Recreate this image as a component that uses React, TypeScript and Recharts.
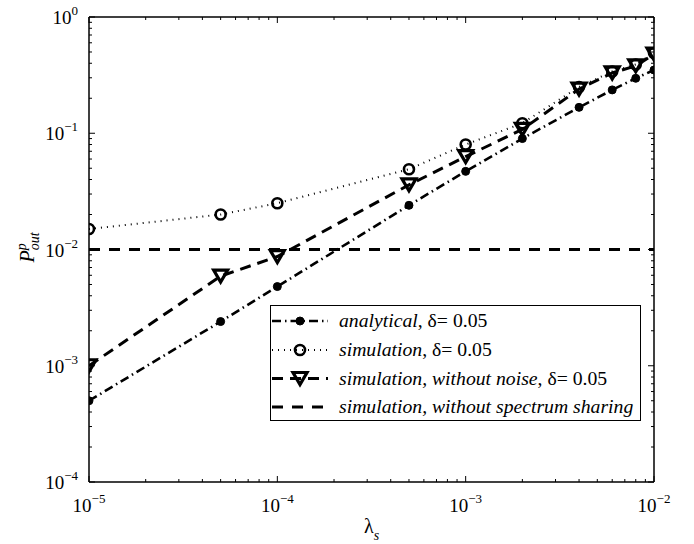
import React from "react";
import { LineChart, Line, XAxis, YAxis, Legend, Label } from "recharts";

// lambda_s values (x axis)
const lambdaS = [1e-5, 5e-5, 1e-4, 5e-4, 1e-3, 2e-3, 4e-3, 6e-3, 8e-3, 1e-2];
// outage probability per series
const analytical = [5e-4, 2.4e-3, 4.8e-3, 0.024, 0.047, 0.09, 0.167, 0.236, 0.297, 0.35];
const simulation = [0.015, 0.02, 0.025, 0.049, 0.08, 0.122, 0.25, 0.34, 0.39, 0.49];
const withoutNoise = [1e-3, 5.9e-3, 8.7e-3, 0.036, 0.063, 0.108, 0.24, 0.33, 0.38, 0.48];
const withoutSharing = [0.01, 0.01, 0.01, 0.01, 0.01, 0.01, 0.01, 0.01, 0.01, 0.01];

// decade tick labels and minor tick mantissas
const xDecades = [1e-5, 1e-4, 1e-3, 1e-2];
const yDecades = [1e-4, 1e-3, 1e-2, 1e-1, 1];
const mantissas = [1, 2, 3, 4, 5, 6, 7, 8, 9];

const data = lambdaS.map((x, i) => ({
  x,
  analytical: analytical[i],
  simulation: simulation[i],
  withoutNoise: withoutNoise[i],
  withoutSharing: withoutSharing[i],
}));

const allTicks = (decades: number[]) => {
  const out: number[] = [];
  decades.forEach((d, i) => {
    if (i === decades.length - 1) out.push(d);
    else mantissas.forEach((m) => out.push(m * d));
  });
  return out;
};
const xTicks = allTicks(xDecades);
const yTicks = allTicks(yDecades);

const FONT = "Liberation Serif";
const FS = 19;
const isMajor = (v: number) => Math.abs(Math.log10(v) - Math.round(Math.log10(v))) < 1e-6;
const expOf = (v: number) => Math.round(Math.log10(v));
const expText = (e: number) => (e < 0 ? `\u2212${-e}` : `${e}`);

const XTick = (props: any) => {
  const { x, y, payload, side } = props;
  const v = payload.value;
  const major = isMajor(v);
  const len = major ? 6 : 3;
  const dir = side === "bottom" ? -1 : 1;
  return (
    <g>
      <line x1={x} y1={y} x2={x} y2={y + dir * len} stroke="#000" strokeWidth={1} />
      {side === "bottom" && major && (
        <text x={x} y={y + 30} textAnchor="middle" fontFamily={FONT} fontSize={FS} fill="#000">
          10
          <tspan dy={-9} fontSize={13}>
            {expText(expOf(v))}
          </tspan>
        </text>
      )}
    </g>
  );
};

const YTick = (props: any) => {
  const { x, y, payload, side } = props;
  const v = payload.value;
  const major = isMajor(v);
  const len = major ? 6 : 3;
  const dir = side === "left" ? 1 : -1;
  return (
    <g>
      <line x1={x} y1={y} x2={x + dir * len} y2={y} stroke="#000" strokeWidth={1} />
      {side === "left" && major && (
        <text x={x - 11} y={y + 7} textAnchor="end" fontFamily={FONT} fontSize={FS} fill="#000">
          10
          <tspan dy={-9} fontSize={13}>
            {expText(expOf(v))}
          </tspan>
        </text>
      )}
    </g>
  );
};

const FilledDot = (p: any) =>
  p.cx == null ? <g key={p.key} /> : <circle key={p.key} cx={p.cx} cy={p.cy} r={4} fill="#000" stroke="#000" strokeWidth={1} />;
const OpenCircle = (p: any) =>
  p.cx == null ? <g key={p.key} /> : <circle key={p.key} cx={p.cx} cy={p.cy} r={5} fill="none" stroke="#000" strokeWidth={2.6} />;
const TriangleDown = (p: any) =>
  p.cx == null ? (
    <g key={p.key} />
  ) : (
    <polygon
      key={p.key}
      points={`${p.cx - 7},${p.cy - 6} ${p.cx + 7},${p.cy - 6} ${p.cx},${p.cy + 6}`}
      fill="none"
      stroke="#000"
      strokeWidth={3.2}
      strokeLinejoin="miter"
    />
  );

const series = [
  {
    key: "analytical",
    dash: "9 4 1.5 4",
    width: 2.6,
    dot: FilledDot,
    label: [["analytical", true], [", \u03b4= 0.05", false]] as [string, boolean][],
  },
  {
    key: "simulation",
    dash: "1 5",
    width: 2,
    dot: OpenCircle,
    label: [["simulation", true], [", \u03b4= 0.05", false]] as [string, boolean][],
  },
  {
    key: "withoutNoise",
    dash: "11 7",
    width: 3,
    dot: TriangleDown,
    label: [["simulation, without noise", true], [", \u03b4= 0.05", false]] as [string, boolean][],
  },
  {
    key: "withoutSharing",
    dash: "11 9",
    width: 3,
    dot: null,
    label: [["simulation, without spectrum sharing", true]] as [string, boolean][],
  },
];

const LegendBox = () => {
  const rowY = [15, 44, 72.5, 101];
  return (
    <div
      style={{
        width: 371,
        height: 116,
        boxSizing: "border-box",
        border: "1.2px solid #000",
        background: "#fff",
      }}
    >
      <svg width={369} height={114} style={{ display: "block" }}>
        {series.map((s, i) => {
          const cy = rowY[i];
          const Marker = s.dot as any;
          return (
            <g key={s.key}>
              <line x1={1} y1={cy} x2={57} y2={cy} stroke="#000" strokeWidth={s.width} strokeDasharray={s.dash} />
              {Marker && <Marker cx={29} cy={cy} key="m" />}
              <text x={68} y={cy + 6} fontFamily={FONT} fontSize={19.7} fill="#000">
                {s.label.map(([t, it], j) => (
                  <tspan key={j} fontStyle={it ? "italic" : "normal"}>
                    {t}
                  </tspan>
                ))}
              </text>
            </g>
          );
        })}
      </svg>
    </div>
  );
};

const YLabel = (props: any) => {
  const { viewBox } = props;
  const cx = viewBox.x + viewBox.width - 55;
  const cy = viewBox.y + viewBox.height / 2 - 2;
  return (
    <text
      transform={`rotate(-90, ${cx}, ${cy})`}
      x={cx}
      y={cy}
      textAnchor="middle"
      fontFamily={FONT}
      fontStyle="italic"
      fontSize={20}
      fill="#000"
    >
      P
      <tspan dy={-8} fontSize={14}>
        p
      </tspan>
      <tspan dx={-7} dy={13} fontSize={14}>
        out
      </tspan>
    </text>
  );
};

const XLabel = (props: any) => {
  const { viewBox } = props;
  const cx = viewBox.x + viewBox.width / 2;
  const cy = viewBox.y + 51;
  return (
    <text x={cx} y={cy} textAnchor="middle" fontFamily={FONT} fontSize={20} fill="#000">
      {"\u03bb"}
      <tspan dy={7} fontSize={14} fontStyle="italic">
        s
      </tspan>
    </text>
  );
};

const axisLine = { stroke: "#000", strokeWidth: 1.5 };

export default function App() {
  return (
    <div style={{ position: "absolute", left: 0, top: 0, background: "#fff" }}>
      <LineChart width={694} height={544} data={data} margin={{ top: 16, right: 39, bottom: 22, left: 29 }}>
        <XAxis
          dataKey="x"
          type="number"
          scale="log"
          domain={[1e-5, 1e-2]}
          allowDataOverflow
          ticks={xTicks}
          interval={0}
          height={40}
          tickSize={0}
          tickMargin={0}
          tickLine={false}
          axisLine={axisLine}
          tick={<XTick side="bottom" />}
        >
          <Label content={<XLabel />} />
        </XAxis>
        <XAxis
          xAxisId="top"
          orientation="top"
          dataKey="x"
          type="number"
          scale="log"
          domain={[1e-5, 1e-2]}
          allowDataOverflow
          ticks={xTicks}
          interval={0}
          height={1}
          tickSize={0}
          tickMargin={0}
          tickLine={false}
          axisLine={axisLine}
          tick={<XTick side="top" />}
        />
        <YAxis
          type="number"
          scale="log"
          domain={[1e-4, 1]}
          allowDataOverflow
          ticks={yTicks}
          interval={0}
          width={60}
          tickSize={0}
          tickMargin={0}
          tickLine={false}
          axisLine={axisLine}
          tick={<YTick side="left" />}
        >
          <Label content={<YLabel />} />
        </YAxis>
        <YAxis
          yAxisId="r"
          orientation="right"
          type="number"
          scale="log"
          domain={[1e-4, 1]}
          allowDataOverflow
          ticks={yTicks}
          interval={0}
          width={1}
          tickSize={0}
          tickMargin={0}
          tickLine={false}
          axisLine={axisLine}
          tick={<YTick side="right" />}
        />
        {series.map((s) => (
          <Line
            key={s.key}
            dataKey={s.key}
            stroke="#000"
            strokeWidth={s.width}
            strokeDasharray={s.dash}
            dot={s.dot ? (s.dot as any) : false}
            activeDot={false}
            isAnimationActive={false}
            type="linear"
          />
        ))}
        <Legend
          layout="horizontal"
          verticalAlign="middle"
          align="center"
          wrapperStyle={{ left: 270, top: 305, width: 371, height: 116 }}
          content={<LegendBox />}
        />
      </LineChart>
    </div>
  );
}
